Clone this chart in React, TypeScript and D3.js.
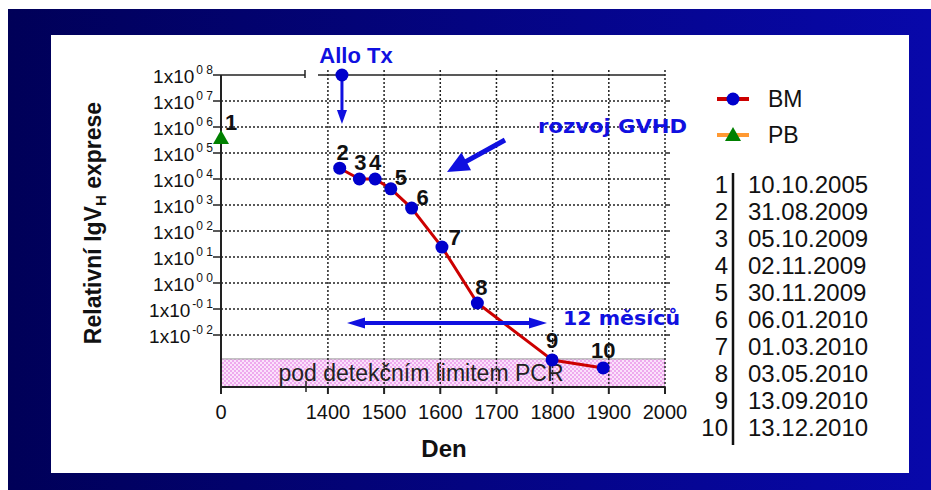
import React from "react";
import * as d3 from "d3";

// ---------- data ----------
const bmDays = [1421, 1456, 1484, 1512, 1549, 1603, 1666, 1799, 1890];
const bmValues = [2.6e4, 1.0e4, 1.0e4, 4.2e3, 7.6e2, 24, 0.17, 1.1e-3, 5.4e-4];
const bmLabels = ["2", "3", "4", "5", "6", "7", "8", "9", "10"];
const pbDays = [0];
const pbValues = [3.8e5];
const pbLabels = ["1"];
const alloTxDay = 1425;
const alloTxValue = 1e8;
const detectionLimit = Math.pow(10, -2.92);

const xTicks = [0, 1400, 1500, 1600, 1700, 1800, 1900, 2000];
const yTickExps = [8, 7, 6, 5, 4, 3, 2, 1, 0, -1, -2];
const yTickSup = ["0 8", "0 7", "0 6", "0 5", "0 4", "0 3", "0 2", "0 1", "0 0", "-0 1", "-0 2"];
const tableNums = ["1", "2", "3", "4", "5", "6", "7", "8", "9", "10"];
const tableDates = [
  "10.10.2005", "31.08.2009", "05.10.2009", "02.11.2009", "30.11.2009",
  "06.01.2010", "01.03.2010", "03.05.2010", "13.09.2010", "13.12.2010",
];
const seriesNames = ["BM", "PB"];

// ---------- layout ----------
const W = 931, H = 490;
const FONT = "'Liberation Sans', Arial, sans-serif";
const FONT2 = "'DejaVu Sans', Verdana, sans-serif";
const BLUE = "#0000cc";
const ANN = "#1010e0";
const RED = "#cc0000";

const x = d3.scaleLinear().domain([0, 150, 1361, 2000]).range([221, 305, 306, 665]);
const y = d3.scaleLog().domain([1e-4, 1e8]).range([387, 75]);
const X0 = 221, X1 = 665, YB = 387, YT = y(1e8);

// label offsets relative to points (layout)
const bmLabelOff: [number, number][] = [
  [3, -16], [1, -17], [0, -17], [10, -12], [11, -11], [13, -10], [4, -16], [0, -20], [0, -18],
];

function arrowHead(x1: number, y1: number, x2: number, y2: number, len: number, half: number) {
  const a = Math.atan2(y2 - y1, x2 - x1);
  const bx = x2 - len * Math.cos(a), by = y2 - len * Math.sin(a);
  const px = -Math.sin(a) * half, py = Math.cos(a) * half;
  return `M${x2},${y2}L${bx + px},${by + py}L${bx - px},${by - py}Z`;
}

export default function App() {
  const line = d3
    .line<number>()
    .x((_, i) => x(bmDays[i]))
    .y((v) => y(v));

  const bandTop = y(detectionLimit);
  const gridExps = yTickExps.filter((e) => e < 8);
  const vGrid = xTicks.filter((t) => t >= 1400);

  const ax = x(alloTxDay);
  const gv = { x1: 505, y1: 140, x2: 447, y2: 172 };
  const m12 = { x1: 347, x2: 547, y: 323 };

  return (
    <svg width={W} height={H} style={{ position: "absolute", left: 0, top: 0 }} fontFamily={FONT}>
      <defs>
        <linearGradient id="bg" x1="0" x2="1" y1="0" y2="0">
          <stop offset="0" stopColor="#000058" />
          <stop offset="1" stopColor="#0808aa" />
        </linearGradient>
        <pattern id="pink" width="4" height="4" patternUnits="userSpaceOnUse">
          <rect width="4" height="4" fill="#fbe2fb" />
          <rect width="2" height="2" fill="#eeaaee" />
          <rect x="2" y="2" width="2" height="2" fill="#eeaaee" />
        </pattern>
      </defs>
      <rect width={W} height={H} fill="#fff" />
      <rect x={8} y={9} width={W - 8} height={H - 9} fill="url(#bg)" />
      <rect x={51} y={35} width={858} height={438} fill="#fff" />

      {/* detection band */}
      <rect x={X0} y={bandTop} width={X1 - X0} height={YB - bandTop} fill="url(#pink)" />
      <line x1={X0} x2={X1} y1={bandTop} y2={bandTop} stroke="#999" strokeWidth={1} />

      {/* horizontal grid */}
      {gridExps.map((e) => (
        <g key={e}>
          <line x1={X0} x2={X1} y1={y(Math.pow(10, e))} y2={y(Math.pow(10, e))}
            stroke="#222" strokeWidth={1.5} strokeDasharray="2,2" />
          <line x1={X1} x2={X1 + 5} y1={y(Math.pow(10, e))} y2={y(Math.pow(10, e))}
            stroke="#222" strokeWidth={1.5} />
        </g>
      ))}
      {/* vertical grid */}
      {vGrid.map((t) => (
        <line key={t} x1={x(t)} x2={x(t)} y1={YT - 5} y2={YB}
          stroke="#222" strokeWidth={1.5} strokeDasharray="2,2" />
      ))}

      {/* axes */}
      <line x1={X0} x2={X0} y1={YT} y2={YB} stroke="#222" strokeWidth={2} />
      <line x1={X0} x2={X1} y1={YB} y2={YB} stroke="#222" strokeWidth={2} />
      <line x1={X0} x2={305} y1={YT} y2={YT} stroke="#222" strokeWidth={1.5} />
      <line x1={305} x2={305} y1={YT - 5} y2={YT + 3} stroke="#222" strokeWidth={1.5} />
      <line x1={318} x2={X1} y1={YT} y2={YT} stroke="#222" strokeWidth={1.5} />
      <line x1={306} x2={306} y1={YB - 6} y2={YB + 5} stroke="#222" strokeWidth={1.5} />
      {xTicks.map((t) => (
        <g key={t}>
          <line x1={x(t)} x2={x(t)} y1={YB} y2={YB + 7} stroke="#222" strokeWidth={2} />
          <text x={x(t)} y={YB + 32} fontSize={20} textAnchor="middle" fill="#111">{t}</text>
        </g>
      ))}
      {yTickExps.map((e, i) => {
        const yy = y(Math.pow(10, e));
        return (
          <g key={e}>
            <line x1={X0 - 8} x2={X0} y1={yy} y2={yy} stroke="#222" strokeWidth={1.5} />
            <text x={213} y={yy + 8} fontSize={19} textAnchor="end" fill="#111">
              1x10
              <tspan fontSize={12} dy={-9} dx={2}>{yTickSup[i]}</tspan>
            </text>
          </g>
        );
      })}

      {/* band label */}
      <text x={421} y={381} fontSize={23} textAnchor="middle" fill="#222">pod detekčním limitem PCR</text>

      {/* axis titles */}
      <text x={444} y={457} fontSize={24} fontWeight="bold" textAnchor="middle" fill="#111">Den</text>
      <text transform="translate(101,223) rotate(-90)" fontSize={23} fontWeight="bold" textAnchor="middle" fill="#111">
        Relativní IgV
        <tspan fontSize={15} dy={5}>H</tspan>
        <tspan dy={-5}> exprese</tspan>
      </text>

      {/* BM series */}
      <path d={line(bmValues) || ""} fill="none" stroke={RED} strokeWidth={3} strokeLinejoin="round" />
      {bmValues.map((v, i) => (
        <circle key={i} cx={x(bmDays[i])} cy={y(v)} r={6.5} fill={BLUE} />
      ))}
      {bmValues.map((v, i) => (
        <text key={"l" + i} x={x(bmDays[i]) + bmLabelOff[i][0]} y={y(v) + bmLabelOff[i][1] + 8}
          fontSize={22} fontWeight="bold" textAnchor="middle" fill="#111">{bmLabels[i]}</text>
      ))}

      {/* PB series */}
      {pbValues.map((v, i) => {
        const cx = x(pbDays[i]), cy = y(v);
        return (
          <g key={"pb" + i}>
            <path d={`M${cx},${cy - 8}L${cx + 8},${cy + 6}L${cx - 8},${cy + 6}Z`} fill="#008000" />
            <text x={cx + 10} y={cy - 8} fontSize={22} fontWeight="bold" textAnchor="middle" fill="#111">{pbLabels[i]}</text>
          </g>
        );
      })}

      {/* Allo Tx annotation */}
      <text x={356} y={63} fontSize={22} fontWeight="bold" textAnchor="middle" fill={ANN}>Allo Tx</text>
      <line x1={ax} x2={ax} y1={y(alloTxValue)} y2={112} stroke={ANN} strokeWidth={3} />
      <path d={arrowHead(ax, 76, ax, 124, 14, 5)} fill={ANN} />
      <circle cx={ax} cy={y(alloTxValue)} r={6.5} fill={BLUE} />

      {/* GVHD annotation */}
      <line x1={gv.x1} y1={gv.y1} x2={gv.x1 + (gv.x2 - gv.x1) * 0.7} y2={gv.y1 + (gv.y2 - gv.y1) * 0.7}
        stroke={ANN} strokeWidth={5} />
      <path d={arrowHead(gv.x1, gv.y1, gv.x2, gv.y2, 22, 10)} fill={ANN} />
      <text x={538} y={133} fontSize={20} fontWeight="bold" fill={ANN} fontFamily={FONT2}
        textLength={149} lengthAdjust="spacingAndGlyphs">rozvoj GVHD</text>

      {/* 12 months annotation */}
      <line x1={m12.x1 + 14} x2={m12.x2 - 14} y1={m12.y} y2={m12.y} stroke={ANN} strokeWidth={4} />
      <path d={arrowHead(m12.x2, m12.y, m12.x1, m12.y, 18, 5.5)} fill={ANN} />
      <path d={arrowHead(m12.x1, m12.y, m12.x2, m12.y, 18, 5.5)} fill={ANN} />
      <text x={563} y={325} fontSize={20} fontWeight="bold" fill={ANN} fontFamily={FONT2}
        textLength={117} lengthAdjust="spacingAndGlyphs">12 měsíců</text>

      {/* legend */}
      <g>
        <line x1={717} x2={749} y1={99} y2={99} stroke={RED} strokeWidth={4} />
        <circle cx={733} cy={99} r={6.5} fill={BLUE} />
        <text x={768} y={107} fontSize={23} fill="#111">{seriesNames[0]}</text>
        <line x1={717} x2={749} y1={135} y2={135} stroke="#ff9933" strokeWidth={4} />
        <path d="M733,127L741,141L725,141Z" fill="#008000" />
        <text x={768} y={143} fontSize={23} fill="#111">{seriesNames[1]}</text>
      </g>

      {/* date table */}
      <line x1={733} x2={733} y1={173} y2={445} stroke="#111" strokeWidth={2.5} />
      {tableDates.map((dt, i) => {
        const yy = 184 + i * 27.1 + 8.5;
        return (
          <g key={dt}>
            <text x={728} y={yy} fontSize={24} textAnchor="end" fill="#111">{tableNums[i]}</text>
            <text x={748} y={yy} fontSize={24} fill="#111">{dt}</text>
          </g>
        );
      })}
    </svg>
  );
}
